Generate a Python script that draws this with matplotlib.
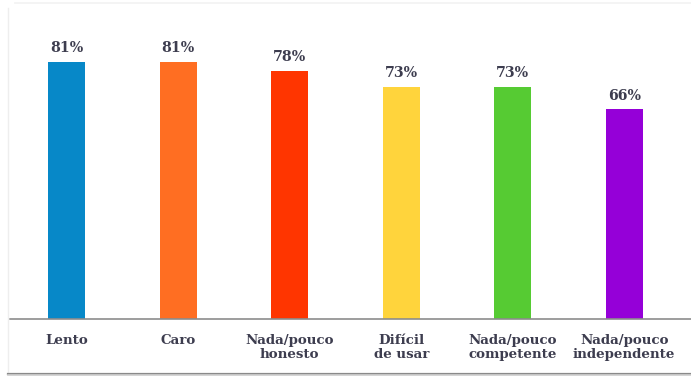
import matplotlib
matplotlib.use("Agg")
import matplotlib.pyplot as plt
from matplotlib.lines import Line2D

categories = ["Lento", "Caro", "Nada/pouco\nhonesto", "Difícil\nde usar",
              "Nada/pouco\ncompetente", "Nada/pouco\nindependente"]
values = [81, 81, 78, 73, 73, 66]
colors = ["#0788c8", "#ff6e22", "#ff3500", "#ffd43c", "#56cb33", "#9500d8"]

W, H = 691, 377
fig = plt.figure(figsize=(W / 100, H / 100), dpi=100)
fig.patch.set_facecolor("white")

# panel frame: faint top/left edges and a soft bottom shadow
fig.add_artist(Line2D([15 / W, 1], [1 - 3 / H, 1 - 3 / H], color="#f2f2f2", lw=1.2, transform=fig.transFigure))
fig.add_artist(Line2D([8 / W, 8 / W], [1 - 8 / H, 4 / H], color="#eeeeee", lw=1.0, transform=fig.transFigure))
fig.add_artist(Line2D([8 / W, 1], [3.5 / H, 3.5 / H], color="#8a8a8a", lw=1.6, transform=fig.transFigure))
fig.add_artist(Line2D([8 / W, 1], [2 / H, 2 / H], color="#d0d0d0", lw=1.2, transform=fig.transFigure))

ax = fig.add_axes([10 / W, (H - 319) / H, (W - 10) / W, 317.5 / H])
x = list(range(len(categories)))
bars = ax.bar(x, values, width=0.33, color=colors, zorder=2)

ax.set_xlim(-0.51, 5.6)
ax.set_ylim(0, 100)
for side in ("top", "right", "left"):
    ax.spines[side].set_visible(False)
ax.spines["bottom"].set_color("#8c8c8c")
ax.spines["bottom"].set_linewidth(1.2)
ax.set_yticks([])
ax.set_xticks(x)
ax.set_xticklabels(categories, fontfamily="DejaVu Serif", fontweight="bold",
                   fontsize=9.6, color="#3d3d4f", linespacing=1.12)
ax.tick_params(axis="x", length=0, pad=10.5)

for xi, v in zip(x, values):
    ax.annotate(f"{v}%", (xi, v), xytext=(0, 5), textcoords="offset points",
                ha="center", va="bottom", fontfamily="DejaVu Serif",
                fontweight="bold", fontsize=10.2, color="#3d3d4f")

fig.savefig("out.png", dpi=100, facecolor="white")
